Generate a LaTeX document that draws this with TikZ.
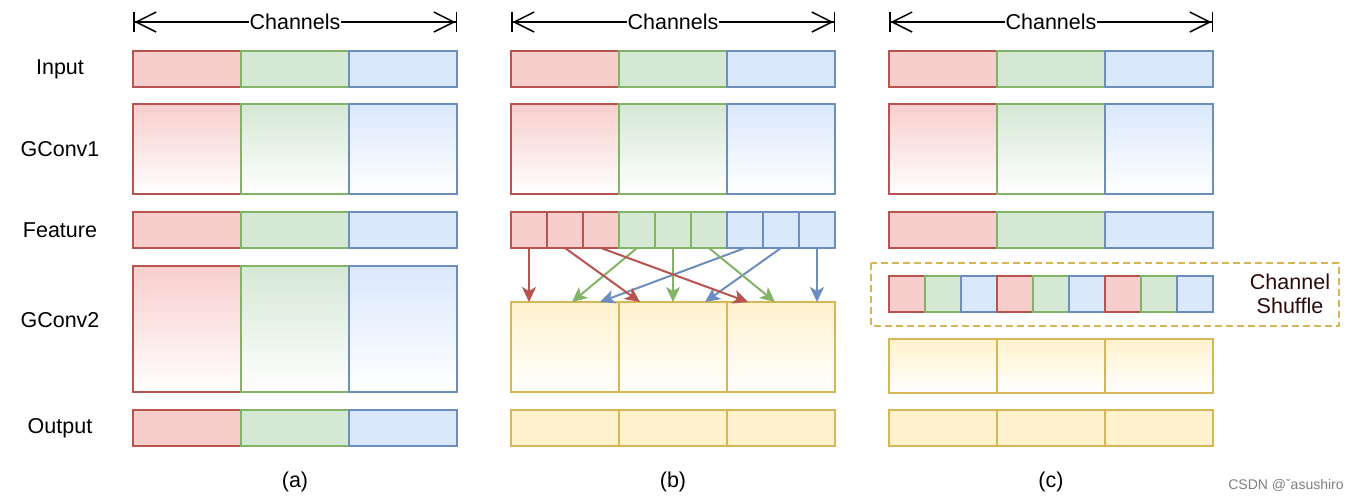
\documentclass[tikz,border=0pt]{standalone}
\usepackage{fontspec}
\setmainfont{Liberation Sans}
\usetikzlibrary{positioning,calc,arrows.meta}

\definecolor{redline}{HTML}{B85450}
\definecolor{redfill}{HTML}{F8CECC}
\definecolor{greenline}{HTML}{82B366}
\definecolor{greenfill}{HTML}{D5E8D4}
\definecolor{blueline}{HTML}{6C8EBF}
\definecolor{bluefill}{HTML}{DAE8FC}
\definecolor{yelline}{HTML}{D6B656}
\definecolor{yelfill}{HTML}{FFF2CC}
\definecolor{shuftext}{HTML}{2A0A0A}

\tikzset{
  cell/.style={draw, line width=0.9pt, outer sep=0pt, inner sep=0pt,
    anchor=north west, minimum width=54pt},
  thin/.style={minimum height=18pt},
  conv/.style={minimum height=45pt},
  narrow/.style={minimum width=18pt},
  redc/.style={cell, draw=redline, fill=redfill},
  greenc/.style={cell, draw=greenline, fill=greenfill},
  bluec/.style={cell, draw=blueline, fill=bluefill},
  yelc/.style={cell, draw=yelline, fill=yelfill},
  redg/.style={cell, draw=redline, top color=redfill, bottom color=white},
  greeng/.style={cell, draw=greenline, top color=greenfill, bottom color=white},
  blueg/.style={cell, draw=blueline, top color=bluefill, bottom color=white},
  yelg/.style={cell, draw=yelline, top color=yelfill, bottom color=white},
  lbl/.style={font=\fontsize{10.75}{12}\selectfont},
  chan/.style={line width=0.75pt,
    {Bar[width=10pt]Straight Barb[length=10pt,width=10pt,sep=0pt]}-{Straight Barb[length=10pt,width=10pt,sep=0pt]Bar[width=10pt]}},
  shuf/.style={line width=1pt, -{Stealth[length=7.5pt,width=7pt,inset=2pt]}},
  shufbox/.style={draw=yelline, line width=1pt, dash pattern=on 3.5pt off 2pt},
}

\begin{document}
\begin{tikzpicture}[x=0.5pt, y=-0.5pt]
\useasboundingbox (0,0) rectangle (1362,500);

% row labels
\node[lbl] (linput) at (60,69) {Input};
\node[lbl] (lconv1) at (60,149) {GConv1};
\node[lbl] (lfeat) at (60,230) {Feature};
\node[lbl] (lconv2) at (60,320) {GConv2};
\node[lbl] (lout) at (60,428) {Output};

% input and GConv1, same in every column
\foreach \c/\x in {a/133,b/511,c/889} {
  \node[redc, thin] (\c-i1) at (\x,51) {};
  \node[greenc, thin, right=0pt of \c-i1] (\c-i2) {};
  \node[bluec, thin, right=0pt of \c-i2] (\c-i3) {};
  \node[redg, conv] (\c-g1) at (\x,104) {};
  \node[greeng, conv, right=0pt of \c-g1] (\c-g2) {};
  \node[blueg, conv, right=0pt of \c-g2] (\c-g3) {};
  % channels arrow
  \draw[chan] ($(\c-i1.north west)+(0,-29)$) -- ($(\c-i3.north east)+(0,-29)$)
    node[midway, fill=white, inner sep=0.5pt, lbl] {Channels};
}

% (a)
\node[redc, thin] (a-f1) at (133,212) {};
\node[greenc, thin, right=0pt of a-f1] (a-f2) {};
\node[bluec, thin, right=0pt of a-f2] (a-f3) {};
\node[redg, minimum height=63pt] (a-h1) at (133,266) {};
\node[greeng, minimum height=63pt, right=0pt of a-h1] (a-h2) {};
\node[blueg, minimum height=63pt, right=0pt of a-h2] (a-h3) {};
\node[redc, thin] (a-o1) at (133,410) {};
\node[greenc, thin, right=0pt of a-o1] (a-o2) {};
\node[bluec, thin, right=0pt of a-o2] (a-o3) {};

% (b)
\foreach \i/\s in {1/redc,2/redc,3/redc,4/greenc,5/greenc,6/greenc,7/bluec,8/bluec,9/bluec}
  \node[\s, thin, narrow] (b-f\i) at ({511+36*(\i-1)},212) {};
\node[yelg, conv] (b-h1) at (511,302) {};
\node[yelg, conv, right=0pt of b-h1] (b-h2) {};
\node[yelg, conv, right=0pt of b-h2] (b-h3) {};
\node[yelc, thin] (b-o1) at (511,410) {};
\node[yelc, thin, right=0pt of b-o1] (b-o2) {};
\node[yelc, thin, right=0pt of b-o2] (b-o3) {};

% shuffled connections
\foreach \s/\t/\d/\col in {1/1/18/redline,4/1/61/greenline,7/1/89/blueline,
    2/2/21/redline,5/2/54/greenline,8/2/86/blueline,
    3/3/21/redline,6/3/48/greenline,9/3/90/blueline}
  \draw[shuf, \col] (b-f\s.south) -- ($(b-h\t.north west)+(\d,0)$);

% (c)
\node[redc, thin] (c-f1) at (889,212) {};
\node[greenc, thin, right=0pt of c-f1] (c-f2) {};
\node[bluec, thin, right=0pt of c-f2] (c-f3) {};
\foreach \i/\s in {1/redc,2/greenc,3/bluec,4/redc,5/greenc,6/bluec,7/redc,8/greenc,9/bluec}
  \node[\s, thin, narrow] (c-s\i) at ({889+36*(\i-1)},276) {};
\node[yelg, minimum height=27pt] (c-h1) at (889,339) {};
\node[yelg, minimum height=27pt, right=0pt of c-h1] (c-h2) {};
\node[yelg, minimum height=27pt, right=0pt of c-h2] (c-h3) {};
\node[yelc, thin] (c-o1) at (889,410) {};
\node[yelc, thin, right=0pt of c-o1] (c-o2) {};
\node[yelc, thin, right=0pt of c-o2] (c-o3) {};

% channel shuffle box
\draw[shufbox] ($(c-s1.north west)+(-18,-13)$) rectangle ($(c-s9.south east)+(126,14)$);
\node[lbl, text=shuftext, align=center] (shuftxt) at (1290,294) {Channel\\Shuffle};

% captions
\foreach \c in {a,b,c}
  \node[lbl] (\c-cap) at ($(\c-o2.south)+(0,36)$) {(\c)};

\node[font=\fontsize{7}{8}\selectfont, text=gray] (wm) at (1286,485) {CSDN @ˇasushiro};
\end{tikzpicture}
\end{document}
